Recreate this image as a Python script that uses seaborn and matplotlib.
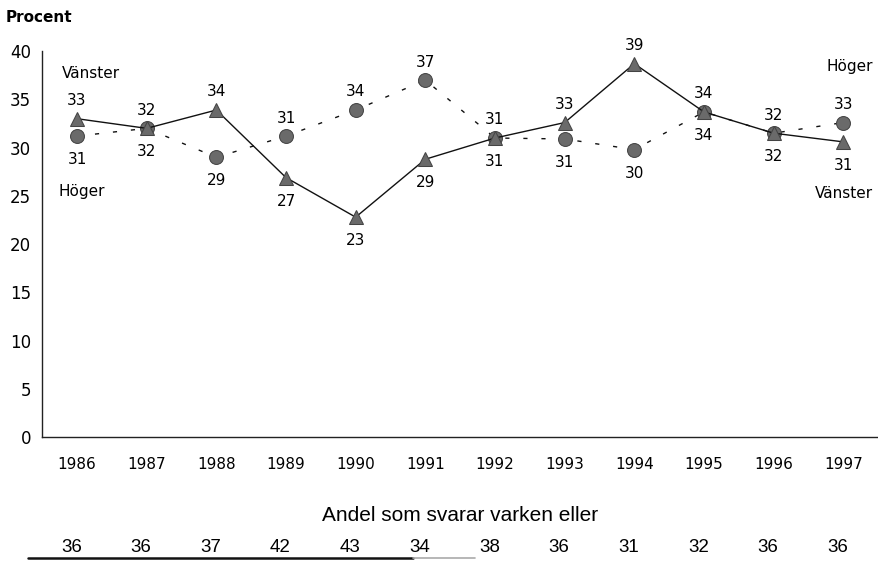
# Andel som placerar sig till vänster / höger, 1986-1997
import numpy as np
import pandas as pd
import matplotlib.pyplot as plt
import matplotlib.transforms as mtransforms
from matplotlib.ticker import FixedLocator
import seaborn as sns

years = ['1986', '1987', '1988', '1989', '1990', '1991',
         '1992', '1993', '1994', '1995', '1996', '1997']
vanster = [33.0, 32.0, 33.9, 26.9, 22.8, 28.8, 31.0, 32.6, 38.7, 33.7, 31.5, 30.6]
hoger = [31.2, 32.0, 29.0, 31.2, 33.9, 37.0, 31.0, 30.9, 29.8, 33.7, 31.5, 32.6]
varken = [36, 36, 37, 42, 43, 34, 38, 36, 31, 32, 36, 36]

sns.set_style('white')
plt.rcParams['font.family'] = ['DejaVu Sans']
plt.rcParams['text.color'] = 'black'
plt.rcParams['xtick.color'] = 'black'
plt.rcParams['ytick.color'] = 'black'

fig = plt.figure(figsize=(8.79, 5.62), dpi=100)
ax = fig.add_axes([0.048, 0.222, 0.951, 0.687])

df = pd.DataFrame({'pos': np.arange(len(years)), 'Vänster': vanster, 'Höger': hoger})

# Höger: circles, sparse dashed line
sns.lineplot(data=df, x='pos', y='Höger', ax=ax, color='#111111', lw=1,
             linestyle=(0, (3, 10)), marker='o', markersize=10,
             markerfacecolor='#6a6a6a', markeredgecolor='#444444')
# Vänster: triangles, solid line
sns.lineplot(data=df, x='pos', y='Vänster', ax=ax, color='#111111', lw=1,
             marker='^', markersize=10,
             markerfacecolor='#6a6a6a', markeredgecolor='#444444')

# value labels: the higher value above, the lower below
for i in range(len(years)):
    v, h = vanster[i], hoger[i]
    if v >= h:
        above, below = v, h
    else:
        above, below = h, v
    ax.annotate('{:.0f}'.format(above), xy=(i, above), xytext=(0, 13),
                textcoords='offset points', ha='center', va='center', fontsize=11)
    ax.annotate('{:.0f}'.format(below), xy=(i, below), xytext=(0, -17),
                textcoords='offset points', ha='center', va='center', fontsize=11)

# series names
ax.text(0.2, 37.7, 'Vänster', ha='center', va='center', fontsize=11)
ax.text(-0.27, 25.5, 'Höger', ha='left', va='center', fontsize=11)
ax.text(11.42, 38.4, 'Höger', ha='right', va='center', fontsize=11)
ax.text(11.42, 25.2, 'Vänster', ha='right', va='center', fontsize=11)

ax.set_xlim(-0.5, len(years) - 0.5)
ax.set_ylim(0, 40)
ax.set_yticks(range(0, 41, 5))
ax.set_xticks(range(len(years)))
ax.set_xticklabels(years)
ax.xaxis.set_minor_locator(FixedLocator(np.arange(-0.5, len(years) - 0.5, 1)))
ax.tick_params(axis='x', which='major', length=0, pad=14, labelsize=11)
ax.tick_params(axis='x', which='minor', length=5, width=1, color='#222222', direction='out')
ax.tick_params(axis='y', length=5, width=1, color='#222222', direction='out', labelsize=12, pad=3)
ax.set_xlabel('')
ax.set_ylabel('')
sns.despine(ax=ax)
for s in ['left', 'bottom']:
    ax.spines[s].set_color('#222222')
    ax.spines[s].set_linewidth(1)

fig.text(0.006, 0.968, 'Procent', fontsize=11, fontweight='bold', ha='left', va='center')

# "varken eller" row under the chart
fig.text(0.523, 0.083, 'Andel som svarar varken eller', fontsize=15,
         family='Liberation Sans', ha='center', va='center')
trans = mtransforms.blended_transform_factory(ax.transData, fig.transFigure)
for i, val in enumerate(varken):
    ax.text(i - 0.08, 0.026, str(val), transform=trans, fontsize=13.5,
            family='Liberation Sans', ha='center', va='center')
fig.add_artist(plt.Line2D([0.032, 0.47], [0.007, 0.007], color='#111111', lw=1.8,
                          transform=fig.transFigure))
fig.add_artist(plt.Line2D([0.47, 0.54], [0.007, 0.007], color='#aaaaaa', lw=1.2,
                          transform=fig.transFigure))

plt.savefig('out.png', dpi=100)
